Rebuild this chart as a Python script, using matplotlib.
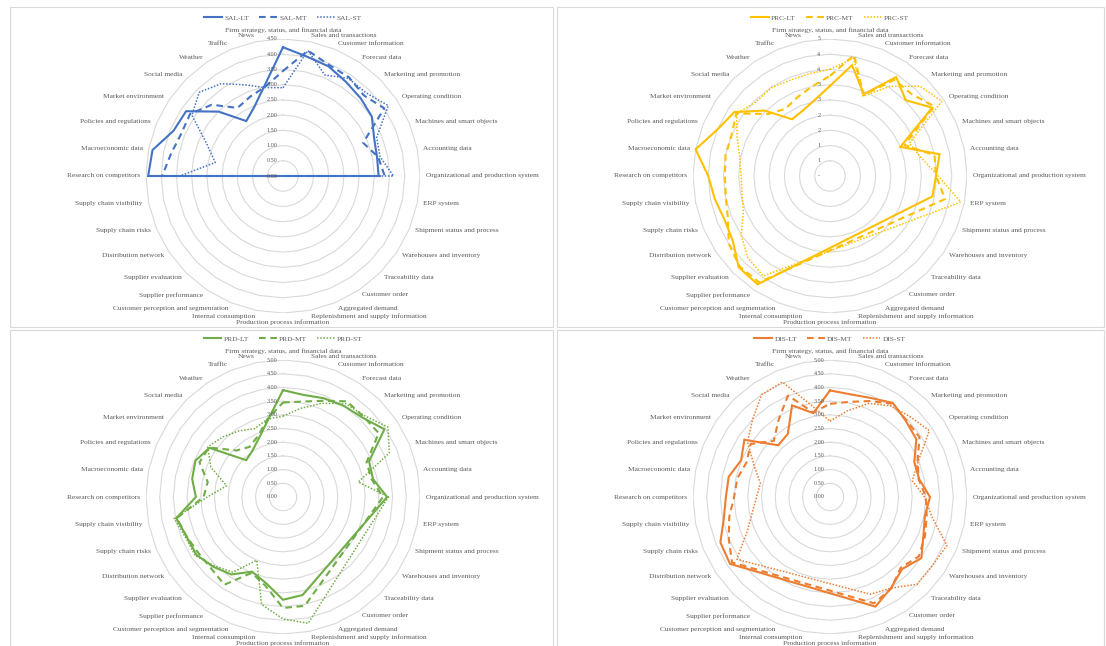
import numpy as np
import matplotlib
matplotlib.use("Agg")
import matplotlib.pyplot as plt
from matplotlib.patches import Rectangle

nan = np.nan

categories = [
    "Firm strategy, status, and financial data", "Sales and transactions",
    "Customer information", "Forecast data", "Marketing and promotion",
    "Operating condition", "Machines and smart objects", "Accounting data",
    "Organizational and production system", "ERP system",
    "Shipment status and process", "Warehouses and inventory",
    "Traceability data", "Customer order", "Aggregated demand",
    "Replenishment and supply information", "Production process information",
    "Internal consumption", "Customer perception and segmentation",
    "Supplier performance", "Supplier evaluation", "Distribution network",
    "Supply chain risks", "Supply chain visibility", "Research on competitors",
    "Macroeconomic data", "Policies and regulations", "Market environment",
    "Social media", "Weather", "Traffic", "News",
]

# empty cells (nan) are skipped and the line joins the neighbours, as in Excel
sal_lt = [4.23, 4.0, 3.9, 3.72, 3.61, 3.51, 3.24, 3.15, 3.14] + [nan] * 15 + \
         [4.43, 4.37, 3.89, 3.83, 2.99, 2.17, 2.46, 3.05]
sal_mt = [3.45, 4.2, 3.95, 3.9, 3.75, 4.0, 2.85, 3.19, 3.34] + [nan] * 15 + \
         [3.97, 3.75, 3.62, 3.67, 3.31, 2.69, 2.82, 2.99]
sal_st = [2.9, 4.2, 3.59, 3.86, 3.86, 4.16, 3.33, 3.25, 3.63] + [nan] * 15 + \
         [3.39, 2.27, 2.7, 3.6, 3.89, 3.65, 3.24, 2.96]

prc_lt = [2.96, 3.71, 2.91, 3.91, 3.52, 4.04, 2.5, 3.67, 3.48, 3.43] + [nan] * 9 + \
         [4.28, 4.24, 3.84, 3.75, 3.86, 4.0, 4.5, 4.0, 3.78, 3.04, 2.24, 2.33, 2.55]
prc_mt = [3.29, 4.05, 2.88, 3.8, 3.8, 4.12, 2.65, 3.5, 3.48, 3.86] + [nan] * 9 + \
         [4.2, 4.2, 4.0, 3.63, 3.49, 3.45, 3.5, 3.5, 3.7, 2.88, 2.65, 2.8, 3.0]
prc_st = [3.5, 3.95, 2.83, 3.54, 4.17, 4.42, 2.82, 3.06, 3.55, 4.38] + [nan] * 9 + \
         [3.95, 3.81, 3.51, 3.08, 2.95, 2.92, 3.02, 3.3, 3.69, 3.44, 3.48, 3.41, 3.43]

prd_lt = [3.9, 3.8, 3.9, 4.0, 4.1, 4.45, 3.4, 3.35, 3.8] + [nan] * 6 + \
         [3.65, 3.75, 3.2, 2.95, 3.4, 3.6, 3.8, 3.8, 3.97, 3.18, 3.38, 3.46, 3.23,
          1.9, 2.02, 2.31, 2.85]
prd_mt = [3.45, 3.55, 3.8, 4.2, 4.15, 4.2, 3.3, 3.3, 3.65] + [nan] * 6 + \
         [4.05, 4.05, 3.3, 3.0, 3.85, 3.7, 3.7, 3.8, 3.95, 2.9, 2.8, 3.3, 3.25,
          2.4, 2.2, 2.4, 2.9]
prd_st = [2.95, 3.3, 3.7, 4.1, 4.2, 4.6, 4.2, 2.8, 3.85] + [nan] * 6 + \
         [4.7, 4.45, 4.0, 2.5, 3.3, 3.55, 3.85, 3.85, 4.05, 2.76, 2.1, 2.85, 3.3,
          3.1, 2.9, 2.7, 2.9]

dis_lt = [3.89, 3.82, 3.91, 4.13, 3.92, 3.79, 3.33, 3.32, 3.65, 3.53, 3.69, 4.01,
          3.72, 4.0, 4.33] + [nan] * 6 + \
         [4.39, 4.33, 3.95, 3.8, 3.77, 3.51, 3.76, 2.67, 2.77, 3.62, 3.12]
dis_mt = [3.4, 3.54, 3.79, 4.1, 3.95, 3.93, 3.46, 3.3, 3.5, 3.6, 3.75, 3.9,
          3.65, 4.02, 4.2] + [nan] * 6 + \
         [4.3, 4.0, 3.75, 3.5, 3.45, 3.3, 3.48, 2.9, 3.38, 4.01, 3.15]
dis_st = [2.77, 3.2, 3.7, 4.0, 4.14, 4.36, 3.5, 3.06, 3.45, 3.8, 4.62, 4.5,
          4.5, 4.0, 3.84] + [nan] * 6 + \
         [4.09, 3.27, 2.89, 2.68, 2.59, 3.0, 3.62, 4.0, 4.49, 4.54, 3.4]

sal_ticks = ["0.00", "0.50", "1.00", "1.50", "2.00", "2.50", "3.00", "3.50", "4.00", "4.50"]
prc_ticks = ["-", "1", "1", "2", "2", "3", "3", "4", "4", "5"]
five_ticks = ["0.00", "0.50", "1.00", "1.50", "2.00", "2.50", "3.00", "3.50", "4.00",
              "4.50", "5.00"]

W, H = 1106, 646
GRID = "#d9d9d9"
TXT = "#595959"
FONT = "Liberation Serif"
R_PX = 137

fig = plt.figure(figsize=(W / 100, H / 100), dpi=100)
fig.patch.set_facecolor("white")


def panel(x0, y0, x1, y1):
    fig.add_artist(Rectangle((x0 / W, 1 - y1 / H), (x1 - x0) / W, (y1 - y0) / H,
                             transform=fig.transFigure, fill=False, ec=GRID, lw=0.8))


def radar(cx, cy, prefix, color, data, ticks, vmax, leg_y):
    ax = fig.add_axes([(cx - R_PX) / W, 1 - (cy + R_PX) / H, 2 * R_PX / W, 2 * R_PX / H])
    ax.set_xlim(-vmax, vmax)
    ax.set_ylim(-vmax, vmax)
    ax.set_aspect("equal")
    ax.axis("off")
    n = len(categories)
    th = np.arange(n + 1) * 2 * np.pi / n
    # polygon gridlines like Excel
    for r in np.arange(0.5, vmax + 1e-6, 0.5):
        ax.plot(r * np.sin(th), r * np.cos(th), color=GRID, lw=0.8, zorder=1)
    # value labels on the vertical axis
    for i, lab in enumerate(ticks):
        ax.annotate(lab, (0, i * 0.5), xytext=(-8, 0), textcoords="offset points",
                    ha="center", va="center", fontsize=4.4, color=TXT,
                    family=FONT, zorder=5)
    # category labels
    rl = vmax * 143 / R_PX
    for i, name in enumerate(categories):
        a = th[i]
        s, c = np.sin(a), np.cos(a)
        ha = "left" if s > 0.01 else ("right" if s < -0.01 else "center")
        va = "center"
        if abs(s) < 0.01:
            va = "bottom" if c > 0 else "top"
        ax.text(rl * s, rl * c, name, ha=ha, va=va, fontsize=5.3, color=TXT,
                family=FONT)
    styles = [dict(ls="-", lw=1.5), dict(ls=(0, (3.2, 2.2)), lw=1.5),
              dict(ls=(0, (1, 1.1)), lw=1.1)]
    for vals, st, tag in zip(data, styles, ["LT", "MT", "ST"]):
        v = np.array(vals, float)
        ok = ~np.isnan(v)
        t = th[:n][ok]
        r = v[ok]
        t = np.append(t, t[0])
        r = np.append(r, r[0])
        ax.plot(r * np.sin(t), r * np.cos(t), color=color, label=prefix + "-" + tag,
                zorder=3, solid_joinstyle="miter", **st)
    leg = ax.legend(loc="center", bbox_to_anchor=(cx / W, 1 - leg_y / H),
                    bbox_transform=fig.transFigure, ncol=3, frameon=False,
                    prop={"family": FONT, "size": 5.3}, handlelength=2.4,
                    handletextpad=0.3, columnspacing=1.4)
    for t in leg.get_texts():
        t.set_color(TXT)
    return ax


panel(10, 7, 553, 327)
panel(557, 7, 1104, 327)
panel(10, 330, 553, 652)
panel(557, 330, 1104, 652)

radar(283, 176, "SAL", "#4472C4", [sal_lt, sal_mt, sal_st], sal_ticks, 4.5, 17.5)
radar(830, 176, "PRC", "#FFC000", [prc_lt, prc_mt, prc_st], prc_ticks, 4.5, 17.5)
radar(283, 497, "PRD", "#70AD47", [prd_lt, prd_mt, prd_st], five_ticks, 5.0, 338.5)
radar(830, 497, "DIS", "#ED7D31", [dis_lt, dis_mt, dis_st], five_ticks, 5.0, 338.5)

fig.savefig("out.png", dpi=100, facecolor="white")
